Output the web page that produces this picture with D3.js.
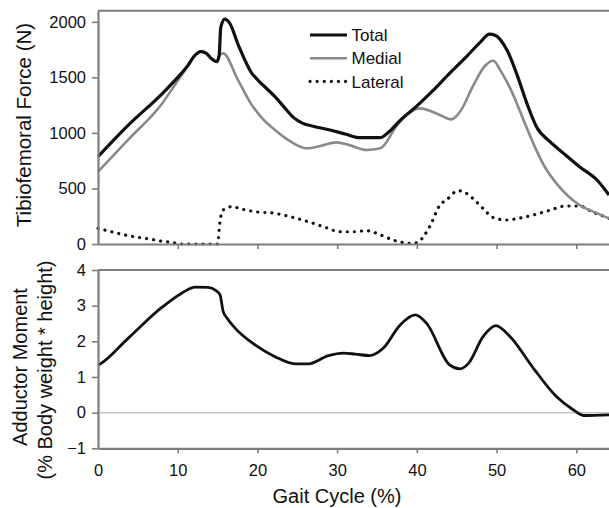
<!DOCTYPE html>
<html lang="en">
<head>
  <meta charset="utf-8" />
  <style>
    body { margin: 0; background: #fff; }
    svg { display: block; font-family: "Liberation Sans", Arial, sans-serif; }
  </style>
</head>
<body>
<div id="container"></div>
<script src="https://cdn.jsdelivr.net/npm/d3@7"></script>
<script>

// gait cycle (%) and values
const totalForce = [
  [0, 786], [3.8, 1070], [8.0, 1350], [10, 1500], [11.3, 1610], [12.0, 1685], [12.9, 1731],
  [13.5, 1720], [14.3, 1665], [14.9, 1641], [15.2, 1700], [15.4, 1950], [15.9, 2025],
  [16.5, 1990], [17.6, 1791], [19.3, 1536], [20.0, 1480], [22.2, 1326], [23.5, 1220],
  [24.5, 1140], [25.7, 1086], [27, 1060], [29.1, 1026], [31, 990], [32.8, 957], [35.4, 957],
  [36.5, 1010], [38, 1120], [39.9, 1236], [42, 1380], [44.1, 1536], [46, 1670], [48, 1820],
  [49.1, 1890], [49.8, 1880], [51.3, 1746], [52.5, 1536], [53.8, 1266], [55.0, 1056],
  [56.7, 921], [58.4, 816], [60.4, 696], [62.6, 576], [64.1, 441]
];

const medialForce = [
  [0, 651], [3.8, 940], [8.0, 1260], [10, 1470], [11.3, 1605], [12.0, 1685], [12.9, 1731],
  [13.5, 1720], [14.3, 1665], [14.9, 1641], [15.3, 1700], [15.7, 1716], [17.5, 1485],
  [19.3, 1251], [20.5, 1140], [22.2, 1026], [24, 930], [26.2, 861], [28, 885], [29.9, 915],
  [31.5, 890], [33.7, 846], [35.4, 861], [37.4, 1056], [38.5, 1150], [40.4, 1221],
  [42.9, 1161], [44.3, 1122], [45.5, 1200], [47.0, 1416], [48.5, 1600], [49.6, 1650],
  [50.5, 1560], [52.0, 1356], [53.3, 1130], [54.6, 906], [56, 700], [57.5, 546], [59, 430],
  [60.4, 351], [62.5, 280], [64.1, 231]
];

const lateralForce = [
  [0, 141], [2, 105], [3.8, 75], [5.5, 55], [6.7, 42], [8, 25], [9.45, 12], [10.2, 0],
  [15.0, 0], [15.3, 200], [15.7, 306], [16.8, 336], [18, 315], [19.7, 291], [22.2, 276],
  [24.9, 231], [27, 186], [28.5, 150], [30.3, 111], [32, 110], [33.7, 120], [35.5, 80],
  [37, 36], [39.5, 5], [40.2, 20], [41.6, 156], [42.9, 351], [43.7, 396], [45.2, 480],
  [46, 465], [47, 411], [48.3, 320], [49.5, 240], [51.2, 216], [53, 235], [54.6, 261],
  [56.5, 300], [58.7, 342], [60.4, 342], [62, 290], [64.1, 231]
];

const adductorMoment = [
  [0, 1.33], [0.25, 1.36], [3.8, 2.09], [8.0, 2.95], [10.5, 3.35], [12.2, 3.52], [13.8, 3.51],
  [14.8, 3.42], [15.3, 3.31], [15.7, 2.84], [16.2, 2.65], [17.2, 2.37], [19.7, 1.90],
  [22.2, 1.57], [24.7, 1.37], [26.4, 1.37], [28.9, 1.60], [30.8, 1.67], [32.3, 1.64],
  [34.1, 1.60], [35.8, 1.81], [37.9, 2.46], [39.8, 2.74], [41.2, 2.51], [44.1, 1.34],
  [45.4, 1.23], [46.5, 1.39], [48.3, 2.13], [49.9, 2.44], [51.7, 2.13], [54.6, 1.25],
  [57.5, 0.45], [59.6, 0.08], [60.9, -0.08], [64.1, -0.06]
];

const xTicks = [0, 10, 20, 30, 40, 50, 60];
const forceTicks = [0, 500, 1000, 1500, 2000];
const momentTicks = [-1, 0, 1, 2, 3, 4];

const legendItems = [
  { name: 'Total', color: '#111', width: 3.2, dash: null },
  { name: 'Medial', color: '#8a8a8a', width: 2.6, dash: null },
  { name: 'Lateral', color: '#111', width: 3.2, dash: '0.1,7' }
];

const width = 609;
const height = 508;
const axisColor = '#7d7d7d';

const svg = d3.select('#container')
  .append('svg')
  .attr('width', width)
  .attr('height', height);

const x = d3.scaleLinear().domain([0, 64.1]).range([98, 609]);
const yForce = d3.scaleLinear().domain([0, 2100]).range([244, 10.7]);
const yMoment = d3.scaleLinear().domain([-1, 4]).range([448.3, 270]);

function styleAxis(g) {
  g.select('.domain').attr('stroke', axisColor).attr('stroke-width', 2.2);
  g.selectAll('.tick line').attr('stroke', axisColor).attr('stroke-width', 1.6);
  g.selectAll('.tick text').attr('fill', '#111').style('font-size', '16.5px');
}

// panel top borders
[yForce, yMoment].forEach(y => {
  svg.append('line')
    .attr('x1', x(0)).attr('x2', width)
    .attr('y1', y.range()[1]).attr('y2', y.range()[1])
    .attr('stroke', axisColor).attr('stroke-width', 2);
});

// zero line in moment panel
svg.append('line')
  .attr('x1', x(0)).attr('x2', width)
  .attr('y1', yMoment(0)).attr('y2', yMoment(0))
  .attr('stroke', '#c4c4c4').attr('stroke-width', 1.5);

// lines
const forceLine = d3.line()
  .x(d => x(d[0]))
  .y(d => yForce(d[1]))
  .curve(d3.curveMonotoneX);

const momentLine = d3.line()
  .x(d => x(d[0]))
  .y(d => yMoment(d[1]))
  .curve(d3.curveMonotoneX);

svg.append('path')
  .datum(lateralForce)
  .attr('d', forceLine)
  .attr('fill', 'none')
  .attr('stroke', legendItems[2].color)
  .attr('stroke-width', legendItems[2].width)
  .attr('stroke-dasharray', legendItems[2].dash)
  .attr('stroke-linecap', 'round');

svg.append('path')
  .datum(medialForce)
  .attr('d', forceLine)
  .attr('fill', 'none')
  .attr('stroke', legendItems[1].color)
  .attr('stroke-width', legendItems[1].width);

svg.append('path')
  .datum(totalForce)
  .attr('d', forceLine)
  .attr('fill', 'none')
  .attr('stroke', legendItems[0].color)
  .attr('stroke-width', legendItems[0].width);

svg.append('path')
  .datum(adductorMoment)
  .attr('d', momentLine)
  .attr('fill', 'none')
  .attr('stroke', '#111')
  .attr('stroke-width', 2.8);

// axes – top panel (drawn over the lines, as in the figure)
svg.append('g')
  .attr('transform', `translate(0, ${yForce(0)})`)
  .call(d3.axisBottom(x).tickValues(xTicks.slice(1)).tickSize(5).tickFormat('').tickSizeOuter(0))
  .call(styleAxis);

svg.append('g')
  .attr('transform', `translate(${x(0)}, 0)`)
  .call(d3.axisLeft(yForce).tickValues(forceTicks).tickFormat(d3.format('d'))
    .tickSize(6).tickPadding(6).tickSizeOuter(0))
  .call(styleAxis);

// axes – bottom panel
svg.append('g')
  .attr('transform', `translate(0, ${yMoment(-1)})`)
  .call(d3.axisBottom(x).tickValues(xTicks).tickFormat(d3.format('d'))
    .tickSize(5).tickPadding(11).tickSizeOuter(0))
  .call(styleAxis)
  .call(g => g.selectAll('.tick').filter(d => d === 0).select('line').remove());

svg.append('g')
  .attr('transform', `translate(${x(0)}, 0)`)
  .call(d3.axisLeft(yMoment).tickValues(momentTicks).tickFormat(d3.format('d'))
    .tickSize(6).tickPadding(6).tickSizeOuter(0))
  .call(styleAxis);

// legend
const legend = svg.append('g').attr('transform', 'translate(310, 35)');
legendItems.forEach((d, i) => {
  const row = legend.append('g').attr('transform', `translate(0, ${i * 23.2})`);
  row.append('line')
    .attr('x1', 0).attr('x2', 37)
    .attr('stroke', d.color)
    .attr('stroke-width', d.width)
    .attr('stroke-dasharray', d.dash)
    .attr('stroke-linecap', d.dash ? 'round' : 'butt');
  row.append('text')
    .attr('x', 41.5)
    .attr('dy', '0.36em')
    .attr('fill', '#111')
    .style('font-size', '17px')
    .text(d.name);
});

// axis titles
svg.append('text')
  .attr('transform', 'translate(31, 125) rotate(-90)')
  .attr('text-anchor', 'middle')
  .attr('fill', '#111')
  .style('font-size', '20.5px')
  .text('Tibiofemoral Force (N)');

svg.append('text')
  .attr('transform', 'translate(27, 367) rotate(-90)')
  .attr('text-anchor', 'middle')
  .attr('fill', '#111')
  .style('font-size', '20px')
  .text('Adductor Moment');

svg.append('text')
  .attr('transform', 'translate(52, 370) rotate(-90)')
  .attr('text-anchor', 'middle')
  .attr('fill', '#111')
  .style('font-size', '20px')
  .text('(% Body weight * height)');

svg.append('text')
  .attr('x', 337)
  .attr('y', 503)
  .attr('text-anchor', 'middle')
  .attr('fill', '#111')
  .style('font-size', '20px')
  .text('Gait Cycle (%)');

</script>
</body>
</html>
